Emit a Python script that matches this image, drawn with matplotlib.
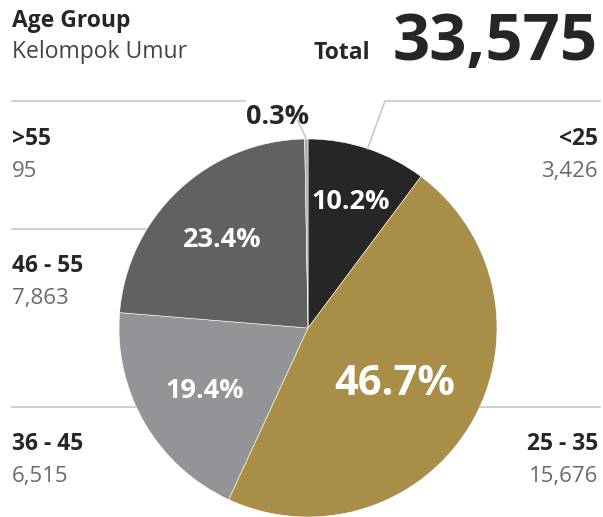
import matplotlib
matplotlib.use("Agg")
import matplotlib.pyplot as plt
import numpy as np

categories = ["<25", "25 - 35", "36 - 45", "46 - 55", ">55"]
values = [3426, 15676, 6515, 7863, 95]
colors = ["#262626", "#a98e48", "#939497", "#616163", "#aaabae"]

W, H = 603, 517
fig = plt.figure(figsize=(W / 100, H / 100), dpi=100)
ax = fig.add_axes([0, 0, 1, 1])

def Y(y):
    return H - y

FONT = "Open Sans"
cx, cy, R = 308, 328, 189
line_c = "#c8c8c8"

# background guide lines (under pie)
ax.plot([12, 245], [Y(101), Y(101)], color=line_c, lw=1.2, zorder=1)
ax.plot([12, cx], [Y(229), Y(229)], color=line_c, lw=1.2, zorder=1)
ax.plot([12, 600], [Y(407), Y(407)], color=line_c, lw=1.2, zorder=1)

wedges, _ = ax.pie(values, colors=colors, startangle=90, counterclock=False,
                   center=(cx, Y(cy)), radius=R, frame=True,
                   wedgeprops=dict(edgecolor="white", linewidth=0.4, zorder=2))
ax.set_xlim(0, W)
ax.set_ylim(0, H)
ax.set_aspect("equal")
ax.axis("off")

total = sum(values)
pcts = [v / total * 100 for v in values]

def mid(w):
    return np.deg2rad((w.theta1 + w.theta2) / 2)

# percent labels inside
dists = [0.72, 0.535, 0.635, 0.66]
sizes = [19.5, 30, 19.5, 19.5]
for i in range(4):
    a = mid(wedges[i])
    x = cx + dists[i] * R * np.cos(a)
    y = Y(cy) + dists[i] * R * np.sin(a)
    ax.text(x, y, f"{pcts[i]:.1f}%", color="white", fontsize=sizes[i],
            fontweight="bold", family=FONT, ha="center", va="center_baseline",
            zorder=5)

# top-right leader for <25
a = mid(wedges[0])
ex, ey = cx + R * np.cos(a), Y(cy) + R * np.sin(a)
ax.plot([ex, 385, 600], [ey, Y(101), Y(101)], color=line_c, lw=1.2, zorder=3)

# leader for >55
a = mid(wedges[4])
ex, ey = cx + R * np.cos(a), Y(cy) + R * np.sin(a)
ax.plot([298, ex], [Y(121), ey], color=line_c, lw=1.2, zorder=3)
ax.text(278, Y(114), f"{pcts[4]:.1f}%", color="#262626", fontsize=19.5,
        fontweight="bold", family=FONT, ha="center", va="center_baseline",
        zorder=5)

# side labels
lab_c = "#262626"
num_c = "#6a6a6a"
side = {
    ">55": (12, 136, "left"),
    "46 - 55": (12, 263, "left"),
    "36 - 45": (12, 441, "left"),
    "<25": (598, 136, "right"),
    "25 - 35": (598, 441, "right"),
}
for cat, val in zip(categories, values):
    x, y, ha = side[cat]
    ax.text(x, Y(y), cat, color=lab_c, fontsize=16.5, fontweight="bold",
            family=FONT, ha=ha, va="center_baseline")
    ax.text(x, Y(y + 33), f"{val:,}", color=num_c, fontsize=16,
            family=FONT, ha=ha, va="center_baseline")

# header
ax.text(12, Y(18), "Age Group", color=lab_c, fontsize=16.5, fontweight="bold",
        family=FONT, ha="left", va="center_baseline")
ax.text(12, Y(49), "Kelompok Umur", color="#444444", fontsize=16.5,
        family=FONT, ha="left", va="center_baseline")
ax.text(598, Y(35), f"{total:,}", color=lab_c, fontsize=47, fontweight="bold",
        family=FONT, ha="right", va="center_baseline")
ax.text(370, Y(50), "Total", color=lab_c, fontsize=16.5, fontweight="bold",
        family=FONT, ha="right", va="center_baseline")

fig.savefig("out.png", dpi=100)
